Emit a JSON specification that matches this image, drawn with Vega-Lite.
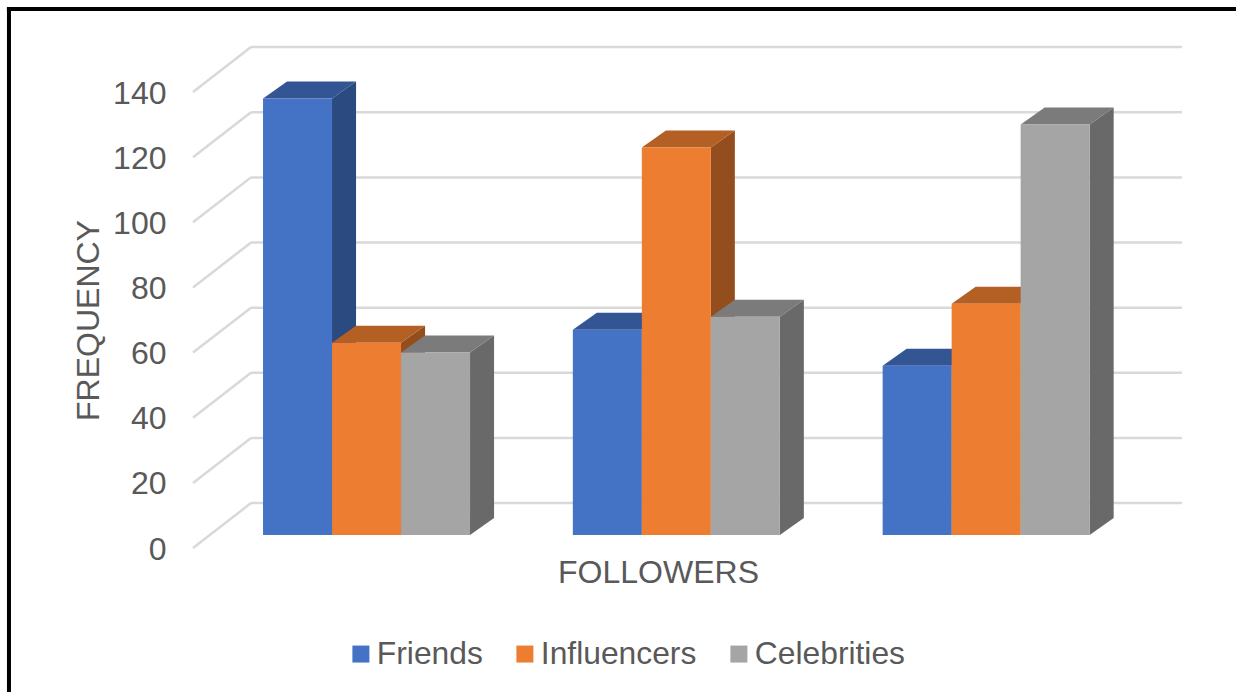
{
  "$schema": "https://vega.github.io/schema/vega-lite/v6.json",
  "width": 1236,
  "height": 692,
  "padding": 0,
  "autosize": "none",
  "background": "white",
  "config": {
    "view": {"stroke": null},
    "font": "Liberation Sans",
    "text": {"font": "Liberation Sans"}
  },
  "datasets": {
    "bars": [
      {"group": 1, "series": "Friends", "value": 134},
      {"group": 1, "series": "Influencers", "value": 59},
      {"group": 1, "series": "Celebrities", "value": 56},
      {"group": 2, "series": "Friends", "value": 63},
      {"group": 2, "series": "Influencers", "value": 119},
      {"group": 2, "series": "Celebrities", "value": 67},
      {"group": 3, "series": "Friends", "value": 52},
      {"group": 3, "series": "Influencers", "value": 71},
      {"group": 3, "series": "Celebrities", "value": 126}
    ],
    "levels": [
      {"level": 0}, {"level": 20}, {"level": 40}, {"level": 60},
      {"level": 80}, {"level": 100}, {"level": 120}, {"level": 140}
    ]
  },
  "resolve": {"scale": {"color": "independent"}},
  "layer": [
    {
      "data": {"name": "levels"},
      "transform": [
        {"calculate": "datum.level + 9.8", "as": "wall"},
        {"calculate": "3.638", "as": "wallLeft"},
        {"calculate": "17.13", "as": "wallRight"}
      ],
      "mark": {"type": "rule", "color": "#D9D9D9", "strokeWidth": 2.5},
      "encoding": {
        "x": {
          "field": "wallLeft",
          "type": "quantitative",
          "scale": {"domain": [0, 17.913], "nice": false, "zero": false},
          "axis": {
            "title": "FOLLOWERS",
            "labels": false,
            "ticks": false,
            "domain": false,
            "grid": false,
            "titleFont": "Liberation Sans",
            "titleFontSize": 32,
            "titleFontWeight": "normal",
            "titleColor": "#595959",
            "titleX": 658,
            "titleY": -120,
            "titleBaseline": "middle"
          }
        },
        "x2": {"field": "wallRight"},
        "y": {
          "field": "wall",
          "type": "quantitative",
          "scale": {"domain": [-48.2, 164.26], "nice": false, "zero": false},
          "axis": {
            "title": "FREQUENCY",
            "values": [0, 20, 40, 60, 80, 100, 120, 140],
            "offset": -166,
            "grid": false,
            "ticks": false,
            "domain": false,
            "labelPadding": 0,
            "labelOffset": 14,
            "labelFont": "Liberation Sans",
            "labelFontSize": 32,
            "labelColor": "#595959",
            "titleFont": "Liberation Sans",
            "titleFontSize": 32,
            "titleFontWeight": "normal",
            "titleColor": "#595959",
            "titleX": -78,
            "titleY": 320,
            "titleAnchor": "middle",
            "titleBaseline": "middle"
          }
        }
      }
    },
    {
      "data": {"name": "levels"},
      "transform": [
        {"calculate": "datum.level + 9.8", "as": "wall"},
        {"calculate": "datum.level - 4", "as": "front"},
        {"calculate": "2.797", "as": "frontX"},
        {"calculate": "3.638", "as": "wallX"}
      ],
      "mark": {"type": "rule", "color": "#D9D9D9", "strokeWidth": 2.5},
      "encoding": {
        "x": {"field": "frontX", "type": "quantitative"},
        "x2": {"field": "wallX"},
        "y": {"field": "front", "type": "quantitative"},
        "y2": {"field": "wall"}
      }
    },
    {
      "data": {"name": "bars"},
      "transform": [
        {"calculate": "3.812 + (datum.group - 1) * 4.49 + indexof(['Friends','Influencers','Celebrities'], datum.series)", "as": "left"},
        {"calculate": "[0, 1]", "as": "t"},
        {"flatten": ["t"]},
        {"calculate": "datum.left + 1 + datum.t * 0.348", "as": "sx"},
        {"calculate": "datum.t * 5.22", "as": "sy"},
        {"calculate": "datum.value + datum.t * 5.22", "as": "sy2"}
      ],
      "mark": {"type": "area", "orient": "vertical", "interpolate": "linear"},
      "encoding": {
        "x": {"field": "sx", "type": "quantitative"},
        "y": {"field": "sy", "type": "quantitative", "stack": null},
        "y2": {"field": "sy2"},
        "detail": {"field": "group"},
        "color": {
          "field": "series",
          "type": "nominal",
          "legend": null,
          "scale": {
            "domain": ["Friends", "Influencers", "Celebrities"],
            "range": ["#2A4A80", "#944E1D", "#696969"]
          }
        }
      }
    },
    {
      "data": {"name": "bars"},
      "transform": [
        {"calculate": "3.812 + (datum.group - 1) * 4.49 + indexof(['Friends','Influencers','Celebrities'], datum.series)", "as": "left"},
        {"calculate": "[0, 1]", "as": "t"},
        {"flatten": ["t"]},
        {"calculate": "datum.left + datum.t * 0.348", "as": "tx"},
        {"calculate": "datum.left + 1 + datum.t * 0.348", "as": "tx2"},
        {"calculate": "datum.value + datum.t * 5.22", "as": "ty"}
      ],
      "mark": {"type": "area", "orient": "horizontal", "interpolate": "linear"},
      "encoding": {
        "x": {"field": "tx", "type": "quantitative", "stack": null},
        "x2": {"field": "tx2"},
        "y": {"field": "ty", "type": "quantitative"},
        "detail": {"field": "group"},
        "color": {
          "field": "series",
          "type": "nominal",
          "legend": null,
          "scale": {
            "domain": ["Friends", "Influencers", "Celebrities"],
            "range": ["#335593", "#B45F24", "#7B7B7B"]
          }
        }
      }
    },
    {
      "data": {"name": "bars"},
      "transform": [
        {"calculate": "3.812 + (datum.group - 1) * 4.49 + indexof(['Friends','Influencers','Celebrities'], datum.series)", "as": "left"},
        {"calculate": "datum.left + 1", "as": "right"},
        {"calculate": "0", "as": "base"}
      ],
      "mark": {"type": "rect"},
      "encoding": {
        "x": {"field": "left", "type": "quantitative"},
        "x2": {"field": "right"},
        "y": {"field": "base", "type": "quantitative"},
        "y2": {"field": "value"},
        "color": {
          "field": "series",
          "type": "nominal",
          "scale": {
            "domain": ["Friends", "Influencers", "Celebrities"],
            "range": ["#4472C4", "#ED7D31", "#A5A5A5"]
          },
          "legend": {
            "title": null,
            "orient": "none",
            "direction": "horizontal",
            "legendX": 345,
            "legendY": 638,
            "symbolType": "square",
            "symbolSize": 289,
            "symbolStrokeWidth": 0,
            "labelFont": "Liberation Sans",
            "labelFontSize": 31.8,
            "labelColor": "#595959",
            "labelOffset": 0,
            "columnPadding": 26
          }
        }
      }
    },
    {
      "data": {"values": [{"frameX": 0.13, "frameStart": 161.8, "frameEnd": -48.2}]},
      "mark": {"type": "rule", "color": "black", "strokeWidth": 4},
      "encoding": {
        "x": {"field": "frameX", "type": "quantitative"},
        "y": {"field": "frameStart", "type": "quantitative"},
        "y2": {"field": "frameEnd"}
      }
    },
    {
      "data": {"values": [{"frameY": 161.5, "frameStart": 0.1, "frameEnd": 17.913}]},
      "mark": {"type": "rule", "color": "black", "strokeWidth": 4},
      "encoding": {
        "x": {"field": "frameStart", "type": "quantitative"},
        "x2": {"field": "frameEnd"},
        "y": {"field": "frameY", "type": "quantitative"}
      }
    }
  ]
}
